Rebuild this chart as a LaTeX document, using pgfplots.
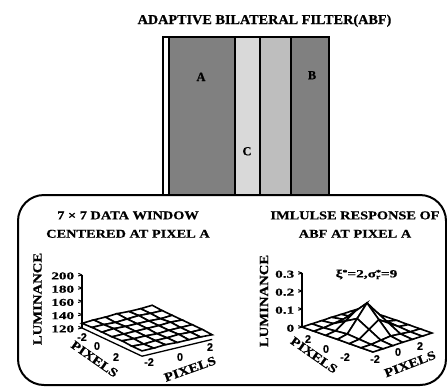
\documentclass[border=0pt]{standalone}
\usepackage{pgfplots}
\pgfplotsset{compat=1.18}
\usepackage{fontspec}
\setmainfont{Liberation Serif}[BoldFeatures={FakeBold=0.6}]
\newfontfamily\sansf{Liberation Sans}[BoldFeatures={FakeBold=0.4}]
\definecolor{darkg}{HTML}{808080}
\definecolor{lightg}{HTML}{D9D9D9}
\definecolor{midg}{HTML}{BEBEBE}
\begin{document}
\begin{tikzpicture}[x=1bp,y=1bp]
\useasboundingbox (0,0) rectangle (447,386);
% rounded frame
\draw[line width=2bp, rounded corners=26bp] (18,1) rectangle (446,191);
% image strips
\fill[white] (163,191) rectangle (169,349);
\fill[darkg] (169,191) rectangle (234.5,349);
\fill[lightg] (234.5,191) rectangle (260,349);
\fill[midg] (260,191) rectangle (290.5,349);
\fill[darkg] (290.5,191) rectangle (329,349);
\draw[line width=2bp] (163,191) rectangle (329,349);
\foreach \xx in {169,234.5,260,290.5} \draw[line width=2bp] (\xx,191) -- (\xx,349);
\node[anchor=base, font=\bfseries\fontsize{12.5}{14}\selectfont] at (201,305) {A};
\node[anchor=base, font=\bfseries\fontsize{12.5}{14}\selectfont] at (312,306.7) {B};
\node[anchor=base, font=\bfseries\fontsize{12.5}{14}\selectfont] at (247,230.7) {C};
% titles
\node[anchor=base, xscale=1.05, font=\bfseries\fontsize{13.6}{16}\selectfont] at (264.5,362) {ADAPTIVE BILATERAL FILTER(ABF)};
\node[anchor=base, xscale=1.2, font=\bfseries\fontsize{12}{14}\selectfont] at (128,166.7) {7 × 7 DATA WINDOW};
\node[anchor=base, xscale=1.2, font=\bfseries\fontsize{12}{14}\selectfont] at (128,148.3) {CENTERED AT PIXEL A};
\node[anchor=base, xscale=1.2, font=\bfseries\fontsize{12}{14}\selectfont] at (355,166.7) {IMLULSE RESPONSE OF};
\node[anchor=base, xscale=1.2, font=\bfseries\fontsize{12}{14}\selectfont] at (355,148.3) {ABF AT PIXEL A};
% axis titles
\node[rotate=90, xscale=1.18, font=\bfseries\fontsize{12.5}{14}\selectfont] at (37.5,87) {LUMINANCE};
\node[rotate=90, xscale=1.18, font=\bfseries\fontsize{12.5}{14}\selectfont] at (264,85) {LUMINANCE};
\node[rotate=-35, xscale=1.2, font=\bfseries\fontsize{12.5}{14}\selectfont] at (94.5,27) {PIXELS};
\node[rotate=19.5, xscale=1.2, font=\bfseries\fontsize{12.5}{14}\selectfont] at (190,17) {PIXELS};
\node[rotate=-35, xscale=1.2, font=\bfseries\fontsize{12.5}{14}\selectfont] at (314,31) {PIXELS};
\node[rotate=21, xscale=1.2, font=\bfseries\fontsize{12.5}{14}\selectfont] at (410,22) {PIXELS};
% pixel tick labels
\begin{scope}[every node/.style={font=\sansf\bfseries\fontsize{11}{13}\selectfont, inner sep=0pt}]
\node at (82,49) {-2};
\node at (97,40) {0};
\node at (116,29) {2};
\node at (149,24) {-2};
\node at (180,29) {0};
\node at (210,39) {2};
\node at (308,47) {2};
\node at (326,37) {0};
\node at (345,29) {-2};
\node at (375,27) {-2};
\node at (398,34) {0};
\node at (420,40) {2};
\end{scope}
\node[anchor=base, xscale=1.4, font=\bfseries\fontsize{11}{13}\selectfont] at (366.5,108.7)
  {ξ\raisebox{0.55ex}{\fontsize{7}{8}\selectfont *}=2,σ\rlap{\raisebox{-0.35ex}{\fontsize{7}{8}\selectfont r}}\raisebox{0.55ex}{\fontsize{7}{8}\selectfont *}=9};
% ---------- left: data window ----------
\begin{axis}[
  at={(82bp,58bp)}, anchor=origin,
  x={(10bp,-4.7bp)}, y={(11.7bp,2.8bp)}, z={(0bp,0.6625bp)},
  xmin=0, xmax=6, ymin=0, ymax=6, zmin=0, zmax=80,
  axis lines=left, axis line style={-, line width=1.3bp},
  y axis line style={draw=none},
  xtick=\empty, ytick=\empty,
  ztick={0,20,40,60,80}, zticklabels={120,140,160,180,200},
  tick align=outside, major tick length=4bp,
  every tick/.style={black, line width=1bp},
  zticklabel style={anchor=east, xshift=-3bp, inner sep=0.5bp, xscale=1.45, font=\bfseries\fontsize{10.5}{12}\selectfont},
  clip=false,
]
\addplot3[black, line width=1.3bp] coordinates {(6,0,0) (6,6,0)};
\addplot3[surf, shader=faceted, colormap={allwhite}{color=(white) color=(white)},
  faceted color=black, line width=1.6bp, z buffer=sort, mesh/rows=7, mesh/cols=7]
  table[x expr=\thisrowno{0}+3, y expr=\thisrowno{1}+3, z expr=\thisrowno{2}-120] {
-3 -3 127
-3 -2 128
-3 -1 128
-3 0 129
-3 1 128
-3 2 128
-3 3 129
-2 -3 128
-2 -2 128
-2 -1 127
-2 0 128
-2 1 129
-2 2 128
-2 3 128
-1 -3 128
-1 -2 129
-1 -1 128
-1 0 128
-1 1 128
-1 2 127
-1 3 128
0 -3 128
0 -2 128
0 -1 128
0 0 128
0 1 128
0 2 129
0 3 128
1 -3 129
1 -2 128
1 -1 128
1 0 127
1 1 128
1 2 128
1 3 128
2 -3 128
2 -2 127
2 -1 128
2 0 128
2 1 129
2 2 128
2 3 128
3 -3 128
3 -2 128
3 -1 129
3 0 128
3 1 128
3 2 128
3 3 127
};
\end{axis}
% ---------- right: impulse response ----------
\begin{axis}[
  at={(302bp,59bp)}, anchor=origin,
  x={(11.83bp,-4.17bp)}, y={(9.83bp,3.17bp)}, z={(0bp,180bp)},
  xmin=0, xmax=6, ymin=0, ymax=6, zmin=0, zmax=0.3,
  axis lines=left, axis line style={-, line width=1.3bp},
  y axis line style={draw=none},
  xtick=\empty, ytick=\empty,
  ztick={0,0.1,0.2,0.3}, zticklabels={0,0.1,0.2,0.3},
  tick align=outside, major tick length=4bp,
  every tick/.style={black, line width=1bp},
  zticklabel style={anchor=east, xshift=-3bp, inner sep=0.5bp, xscale=1.45, font=\bfseries\fontsize{10.5}{12}\selectfont},
  clip=false,
]
\addplot3[surf, shader=faceted, colormap={allwhite}{color=(white) color=(white)},
  faceted color=black, line width=1.6bp, z buffer=sort, mesh/rows=7, mesh/cols=7]
  table[x expr=3-\thisrowno{0}, y expr=\thisrowno{1}+3, z index=2] {
-3 -3 0.000
-3 -2 0.000
-3 -1 0.000
-3 0 0.001
-3 1 0.000
-3 2 0.000
-3 3 0.000
-2 -3 0.000
-2 -2 0.001
-2 -1 0.007
-2 0 0.013
-2 1 0.007
-2 2 0.001
-2 3 0.000
-1 -3 0.000
-1 -2 0.007
-1 -1 0.044
-1 0 0.081
-1 1 0.044
-1 2 0.007
-1 3 0.000
0 -3 0.001
0 -2 0.013
0 -1 0.081
0 0 0.150
0 1 0.081
0 2 0.013
0 3 0.001
1 -3 0.000
1 -2 0.007
1 -1 0.044
1 0 0.081
1 1 0.044
1 2 0.007
1 3 0.000
2 -3 0.000
2 -2 0.001
2 -1 0.007
2 0 0.013
2 1 0.007
2 2 0.001
2 3 0.000
3 -3 0.000
3 -2 0.000
3 -1 0.000
3 0 0.001
3 1 0.000
3 2 0.000
3 3 0.000
};
\end{axis}
\end{tikzpicture}
\end{document}
